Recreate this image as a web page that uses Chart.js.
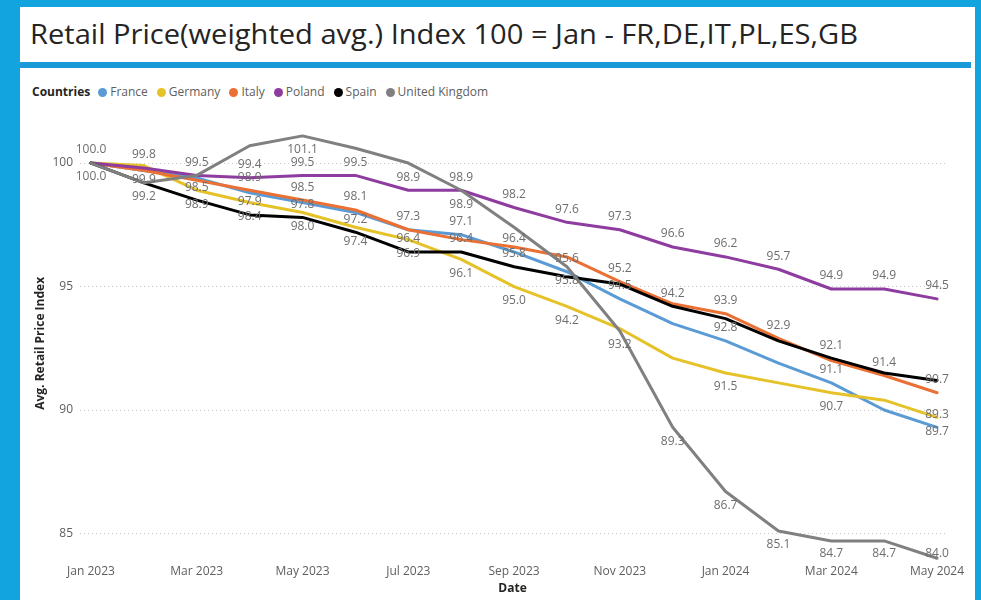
<!DOCTYPE html>
<html><head><meta charset="utf-8">
<script src="https://cdn.jsdelivr.net/npm/chart.js@4.4.1/dist/chart.umd.min.js"></script>
<style>
html,body{margin:0;padding:0;width:981px;height:600px;overflow:hidden;background:#11a4df;font-family:'Open Sans',sans-serif;}
#panel{position:absolute;left:20px;top:7px;width:955px;height:593px;background:#fff;}
#title{position:absolute;left:30px;top:13px;font-size:28px;color:#252423;white-space:nowrap;line-height:40px;font-weight:400;transform-origin:0 50%;}
#bar{position:absolute;left:20px;top:62px;width:951px;height:6px;background:#1a9bd7;}
#legend{position:absolute;left:32px;top:84px;font-size:12px;color:#605e5c;white-space:nowrap;line-height:16px;}
#legend b{color:#252423;margin-right:8px;font-weight:700;}
.item{margin-right:9px}
.dot{display:inline-block;width:9px;height:9px;border-radius:50%;margin-right:3px;vertical-align:-1px}
#wrap{position:absolute;left:20px;top:100px;width:955px;height:500px;}
</style></head>
<body>
<div id="panel"></div>
<div id="title">Retail Price(weighted avg.) Index 100 = Jan - FR,DE,IT,PL,ES,GB</div>
<div id="bar"></div>
<div id="legend"></div>
<div id="wrap"><canvas id="c" width="955" height="500"></canvas></div>
<script>
// ---- data ----
const months = ['Jan 2023','Feb 2023','Mar 2023','Apr 2023','May 2023','Jun 2023','Jul 2023','Aug 2023','Sep 2023','Oct 2023','Nov 2023','Dec 2023','Jan 2024','Feb 2024','Mar 2024','Apr 2024','May 2024'];
const countries = ['France','Germany','Italy','Poland','Spain','United Kingdom'];
const france  = [100.0,99.7,99.4,98.8,98.4,98.0,97.3,97.1,96.4,95.6,94.5,93.5,92.8,91.9,91.1,90.0,89.3];
const germany = [100.0,99.9,98.9,98.4,98.0,97.4,96.9,96.1,95.0,94.2,93.3,92.1,91.5,91.1,90.7,90.4,89.7];
const italy   = [100.0,99.7,99.3,98.9,98.5,98.1,97.3,96.9,96.6,96.2,95.2,94.3,93.9,92.9,92.0,91.4,90.7];
const poland  = [100.0,99.8,99.5,99.4,99.5,99.5,98.9,98.9,98.2,97.6,97.3,96.6,96.2,95.7,94.9,94.9,94.5];
const spain   = [100.0,99.2,98.5,97.9,97.8,97.2,96.4,96.4,95.8,95.4,95.1,94.2,93.7,92.8,92.1,91.5,91.2];
const uk      = [100.0,99.2,99.5,100.7,101.1,100.6,100.0,98.9,97.4,95.8,93.2,89.3,86.7,85.1,84.7,84.7,84.0];
const yTickValues = [85,90,95,100];
const xTickMonths = [0,2,4,6,8,10,12,14,16];
// months whose data label is shown (Power BI label density)
const labelMonths = {
  France:[7,8,9,10,12,14,16],
  Germany:[1,2,3,4,5,6,7,8,9,12,14,16],
  Italy:[3,4,5,6,10,12,13,15,16],
  Poland:[0,1,2,3,4,5,6,7,8,9,10,11,12,13,14,15,16],
  Spain:[2,3,4,5,6,7,8,11,14],
  'United Kingdom':[0,1,4,7,9,10,11,12,13,14,15,16]
};
// ---- styles ----
const colors = ['#5b9bd5','#e6c229','#ea7034','#8e3c9f','#000000','#808080'];
const labelSide = ['above','below','above','above','above','below'];
const series = [france,germany,italy,poland,spain,uk];

// title fit (horizontal scale only)
const t=document.getElementById('title');
(function(){const w=t.getBoundingClientRect().width;t.style.transform='scaleX('+(828/w)+')';})();

// legend
const lg=document.getElementById('legend');
lg.innerHTML='<b>Countries</b>'+countries.map((c,i)=>'<span class="item"><span class="dot" style="background:'+colors[i]+'"></span>'+c+'</span>').join('');

const labelPlugin={
  id:'pointLabels',
  afterDatasetsDraw(chart){
    const ctx=chart.ctx, area=chart.chartArea;
    ctx.save();
    ctx.font='12px "Open Sans"';
    ctx.fillStyle='#6e6e6e';
    ctx.textAlign='center';ctx.textBaseline='middle';
    chart.data.datasets.forEach((ds,di)=>{
      const meta=chart.getDatasetMeta(di);
      ds.labelAt.forEach(i=>{
        const p=meta.data[i];
        let y=ds.labelSide==='below'?p.y+14:p.y-13;
        y=Math.min(y,area.bottom-7);
        ctx.fillText(ds.data[i].y.toFixed(1),p.x,y);
      });
    });
    ctx.restore();
  }
};

new Chart(document.getElementById('c'),{
  type:'line',
  data:{datasets:series.map((s,i)=>({
    label:countries[i],
    data:s.map((v,k)=>({x:k,y:v})),
    borderColor:colors[i],backgroundColor:colors[i],
    borderWidth:3,pointRadius:0,tension:0,fill:false,
    order:5-i,
    labelAt:labelMonths[countries[i]],labelSide:labelSide[i]
  }))},
  options:{
    responsive:false,animation:false,devicePixelRatio:1,
    layout:{padding:{top:26,right:30,left:0,bottom:0}},
    plugins:{legend:{display:false},tooltip:{enabled:false}},
    elements:{line:{borderJoinStyle:'round',borderCapStyle:'round'}},
    scales:{
      x:{type:'linear',min:-0.208,max:16.15,
        grid:{display:false},border:{display:false},
        afterBuildTicks:s=>{s.ticks=xTickMonths.map(v=>({value:v}));},
        afterFit:s=>{s.height=39.3;},
        ticks:{callback:v=>months[v],autoSkip:false,maxRotation:0,padding:-4,color:'#605e5c',font:{size:12,family:'Open Sans'}},
        title:{display:true,text:'Date',color:'#252423',font:{size:12,weight:'bold',family:'Open Sans'},padding:{top:0,bottom:4}}
      },
      y:{min:83.9,max:101.5,
        afterBuildTicks:s=>{s.ticks=yTickValues.map(v=>({value:v}));},
        afterFit:s=>{s.width=60;},
        grid:{color:'#c8c8c8',lineWidth:1,drawTicks:false},
        border:{display:false,dash:[1,3]},
        ticks:{padding:7,color:'#605e5c',font:{size:12,family:'Open Sans'}},
        title:{display:true,text:'Avg. Retail Price Index',color:'#252423',font:{size:12,weight:'bold',family:'Open Sans'},padding:{top:13,bottom:0}}
      }
    }
  },
  plugins:[labelPlugin]
});
</script>
</body></html>
